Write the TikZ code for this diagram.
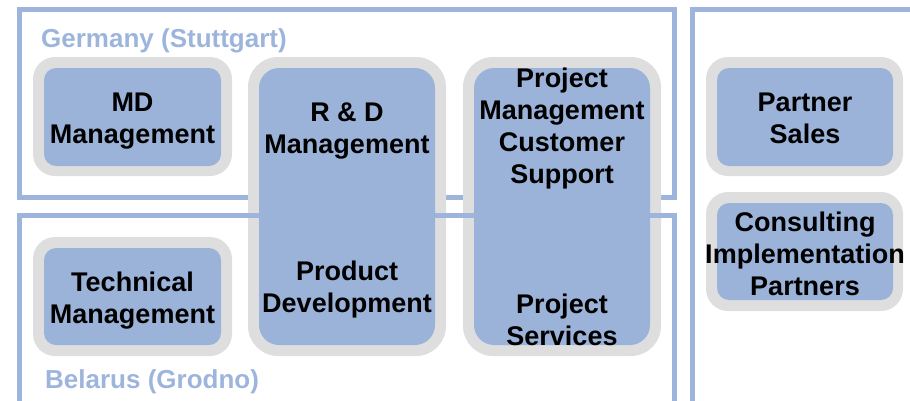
\documentclass[tikz,border=0pt]{standalone}
\usepackage{fontspec}
\setmainfont{Liberation Sans}
\definecolor{frameblue}{HTML}{9DB5DC}
\definecolor{boxblue}{HTML}{9BB3D9}
\definecolor{boxgray}{HTML}{DEDEDE}
\begin{document}
\begin{tikzpicture}[x=1pt,y=-1pt,
  frame/.style={draw=frameblue,line width=5pt},
  outerbox/.style={fill=boxgray,draw=none,rounded corners=22pt},
  innerbox/.style={fill=boxblue,draw=none,rounded corners=12pt},
  outercol/.style={fill=boxgray,draw=none,rounded corners=30pt},
  innercol/.style={fill=boxblue,draw=none,rounded corners=20pt},
  boxtext/.style={font=\fontsize{27}{32}\selectfont\bfseries,align=center,inner sep=0pt,anchor=base},
  regtext/.style={font=\fontsize{26}{30}\selectfont\bfseries,text=frameblue,inner sep=0pt,anchor=base west}]
\useasboundingbox (0,0) rectangle (910,400);
% Germany frame (below boxes)
\draw[frame] (19.5,9.5) rectangle (674.5,197.5);
% gray outer shapes
\fill[outerbox] (33,57) rectangle (232,176);
\fill[outerbox] (33,237) rectangle (232,356);
\fill[outercol] (248,57) rectangle (446,356);
\fill[outercol] (463,57) rectangle (661,356);
\fill[outerbox] (706,57) rectangle (903,176);
\fill[outerbox] (706,192) rectangle (903,311);
% Belarus frame (over gray, under blue)
\draw[frame] (19.5,410) -- (19.5,215) -- (674.5,215) -- (674.5,410);
% Right frame
\draw[frame] (692.5,410) -- (692.5,9.5) -- (920,9.5);
% blue inner shapes
\fill[innerbox] (44,68) rectangle (221,166);
\fill[innerbox] (44,248) rectangle (221,345);
\fill[innercol] (259,68) rectangle (435,345);
\fill[innercol] (474,68) rectangle (650,345);
\fill[innerbox] (717,68) rectangle (893,166);
\fill[innerbox] (717,203) rectangle (893,300);
% texts
\node[regtext] (ger) at (41,47) {Germany (Stuttgart)};
\node[regtext] (bel) at (45,388) {Belarus (Grodno)};
\node[boxtext] (md) at (132.5,143) {MD\\Management};
\node[boxtext] (tm) at (132.5,323) {Technical\\Management};
\node[boxtext] (rd) at (347,153) {R \& D\\Management};
\node[boxtext] (pd) at (347,312) {Product\\Development};
\node[boxtext] (pm) at (562,183) {Project\\Management\\Customer\\Support};
\node[boxtext] (ps) at (562,345) {Project\\Services};
\node[boxtext] (sales) at (805,143) {Partner\\Sales};
\node[boxtext] (cons) at (805,295) {Consulting\\Implementation\\Partners};
\end{tikzpicture}
\end{document}
